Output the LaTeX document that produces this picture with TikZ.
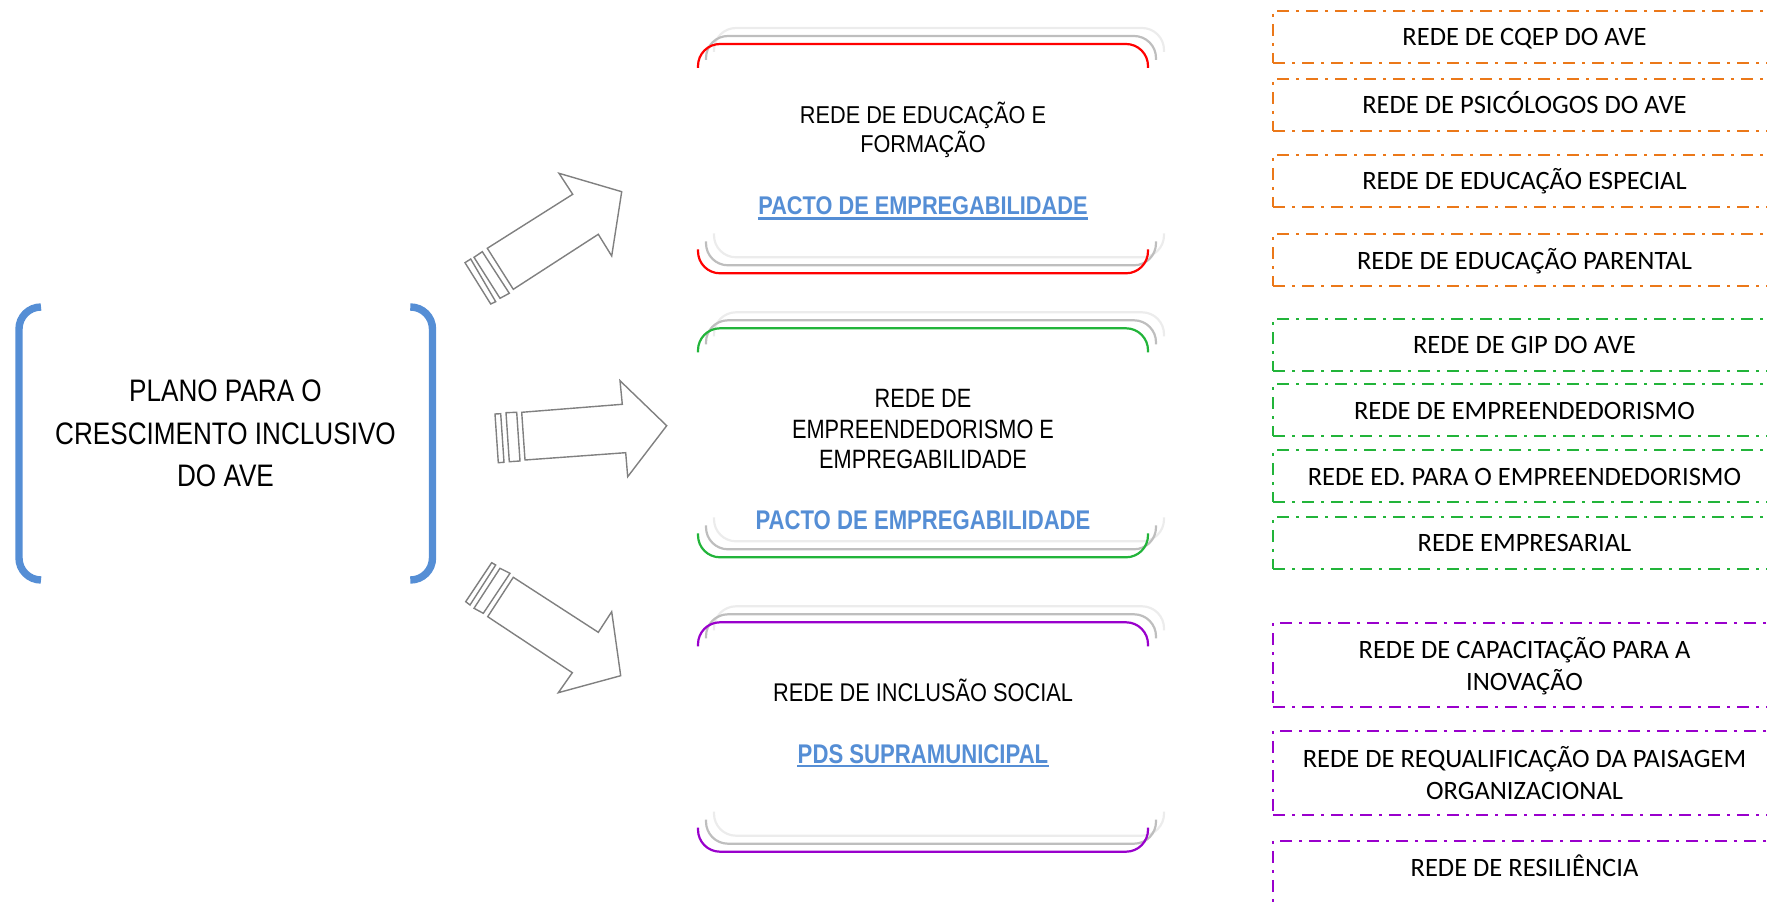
\documentclass[tikz,border=0pt]{standalone}
\usepackage{fontspec}
\setmainfont{Liberation Sans}
\newfontfamily\nA[FakeStretch=0.84]{Liberation Sans}
\newfontfamily\nB[FakeStretch=0.89]{Liberation Sans}
\newfontfamily\nC[FakeStretch=0.82]{Liberation Sans}
\newfontfamily\nD[FakeStretch=0.85]{Liberation Sans}
\newfontfamily\calfont{Carlito}
\definecolor{bblue}{RGB}{85,142,213}
\definecolor{aorange}{RGB}{235,120,25}
\definecolor{agreen}{RGB}{34,180,58}
\definecolor{apurple}{RGB}{153,0,204}
\definecolor{dgray}{RGB}{190,190,190}
\definecolor{lgray}{RGB}{236,236,236}
\definecolor{agray}{RGB}{128,128,128}
\newcommand{\bracketbox}[3]{%
  \foreach \d/\c in {16/lgray,8/dgray,0/#3} {
    \draw[boxline, draw=\c] (698+\d,#1-\d+24) -- (698+\d,#1-\d) -- (1148+\d,#1-\d) -- (1148+\d,#1-\d+24);
    \draw[boxline, draw=\c] (698+\d,#2-\d-24) -- (698+\d,#2-\d) -- (1148+\d,#2-\d) -- (1148+\d,#2-\d-24);
  }}
\begin{document}
\begin{tikzpicture}[x=0.5pt,y=-0.5pt,
  lbracket/.style={draw=bblue, line width=3.7pt, rounded corners=11pt},
  boxline/.style={line width=1.1pt, rounded corners=11pt},
  barrow/.style={draw=agray, fill=white, line width=0.7pt, line join=miter},
  ltext/.style={anchor=base, inner sep=0pt, font=\nA\fontsize{15.55pt}{18pt}\selectfont},
  btextA/.style={anchor=base, inner sep=0pt, font=\nB\fontsize{12.2pt}{14pt}\selectfont},
  btextB/.style={anchor=base, inner sep=0pt, font=\nC\fontsize{13.25pt}{15pt}\selectfont},
  btextC/.style={anchor=base, inner sep=0pt, font=\nD\fontsize{12.8pt}{15pt}\selectfont},
  pactA/.style={anchor=base, inner sep=0pt, text=bblue, font=\nD\bfseries\fontsize{12.8pt}{15pt}\selectfont},
  pactB/.style={anchor=base, inner sep=0pt, text=bblue, font=\nC\bfseries\fontsize{13.5pt}{15pt}\selectfont},
  uline/.style={draw=bblue, line width=1.2pt},
  rbox/.style={draw, dash pattern=on 6pt off 3.5pt on 1.5pt off 3.5pt, line width=0.8pt,
               minimum width=252pt, anchor=north west, inner sep=0pt},
  rtext/.style={anchor=base, inner sep=0pt, font=\calfont\fontsize{13.25pt}{15.85pt}\selectfont}
]
\useasboundingbox (0,0) rectangle (1767,908);
\begin{scope}
\clip (0,0) rectangle (1767,908);

% left bracket and title
\draw[lbracket] (41,307) -- (19,307) -- (19,580) -- (41,580);
\draw[lbracket] (411,307) -- (432.5,307) -- (432.5,580) -- (411,580);
\node[ltext] (t1) at (225.5,402) {PLANO PARA O};
\node[ltext] (t2) at (225.5,444.5) {CRESCIMENTO INCLUSIVO};
\node[ltext] (t3) at (225.5,487) {DO AVE};

% block arrows
\draw[barrow] (487.3,248.3) -- (572.7,194.3) -- (559,173.3) -- (621.7,191.7) -- (611.7,256) -- (598.3,234.3) -- (513.3,289.3) -- cycle;
\draw[barrow] (474,257.3) -- (482.3,251.7) -- (509.3,293.3) -- (500,298.3) -- cycle;
\draw[barrow] (465,262.7) -- (470.7,259) -- (495.7,301.7) -- (490.7,304) -- cycle;

\draw[barrow] (521.7,412.3) -- (622.3,404.3) -- (620,380.7) -- (666.7,425.7) -- (627.7,476.7) -- (625.7,452.7) -- (525,460) -- cycle;
\draw[barrow] (506,412.7) -- (516.7,412.3) -- (520,461) -- (509.3,461.7) -- cycle;
\draw[barrow] (495,414) -- (500.7,413.7) -- (504,462.3) -- (498.3,462.7) -- cycle;

\draw[barrow] (513.3,577.3) -- (598.3,632.3) -- (611.7,611.7) -- (620.7,675.7) -- (558.3,692.7) -- (572.3,672.7) -- (487.7,616.7) -- cycle;
\draw[barrow] (500,568.3) -- (510,573.3) -- (483.3,613.3) -- (474,608.3) -- cycle;
\draw[barrow] (491.7,562.7) -- (495.7,565) -- (470,605) -- (465.7,601.7) -- cycle;

% middle boxes
\bracketbox{44}{273.3}{red}
\bracketbox{328.3}{557.3}{agreen}
\bracketbox{622.3}{851.7}{apurple}

\node[btextA] (e1) at (923,123.3) {REDE DE EDUCAÇÃO E};
\node[btextA] (e2) at (923,152.7) {FORMAÇÃO};
\node[pactA] (e3) at (923,215) {PACTO DE EMPREGABILIDADE};
\draw[uline] ([yshift=-1.8pt]e3.base west) -- ([yshift=-1.8pt]e3.base east);

\node[btextB] (m1) at (923,407.3) {REDE DE};
\node[btextB] (m2) at (923,438.3) {EMPREENDEDORISMO E};
\node[btextB] (m3) at (923,469) {EMPREGABILIDADE};
\node[pactB] (m4) at (923,530) {PACTO DE EMPREGABILIDADE};

\node[btextC] (s1) at (923,701.7) {REDE DE INCLUSÃO SOCIAL};
\node[pactB] (s2) at (923,763.3) {PDS SUPRAMUNICIPAL};
\draw[uline] ([yshift=-1.4pt]s2.base west) -- ([yshift=-1.4pt]s2.base east);

% right dashed boxes
\node[rbox, draw=aorange, minimum height=26pt] (o1) at (1272.3,10) {};
\node[rbox, draw=aorange, minimum height=26pt] (o2) at (1272.3,78) {};
\node[rbox, draw=aorange, minimum height=26pt] (o3) at (1272.3,154) {};
\node[rbox, draw=aorange, minimum height=26pt] (o4) at (1272.3,233.3) {};
\node[rtext] (o1t) at (1524.5,46) {REDE DE CQEP DO AVE};
\node[rtext] (o2t) at (1524.5,114) {REDE DE PSICÓLOGOS DO AVE};
\node[rtext] (o3t) at (1524.5,190) {REDE DE EDUCAÇÃO ESPECIAL};
\node[rtext] (o4t) at (1524.5,269.3) {REDE DE EDUCAÇÃO PARENTAL};

\node[rbox, draw=agreen, minimum height=26pt] (g1) at (1272.3,318.3) {};
\node[rbox, draw=agreen, minimum height=26pt] (g2) at (1272.3,383.5) {};
\node[rbox, draw=agreen, minimum height=26pt] (g3) at (1272.3,449.5) {};
\node[rbox, draw=agreen, minimum height=26pt] (g4) at (1272.3,516) {};
\node[rtext] (g1t) at (1524.5,354) {REDE DE GIP DO AVE};
\node[rtext] (g2t) at (1524.5,420) {REDE DE EMPREENDEDORISMO};
\node[rtext] (g3t) at (1524.5,485.7) {REDE ED. PARA O EMPREENDEDORISMO};
\node[rtext] (g4t) at (1524.5,551.7) {REDE EMPRESARIAL};

\node[rbox, draw=apurple, minimum height=42pt] (p1) at (1272.3,622.3) {};
\node[rbox, draw=apurple, minimum height=42pt] (p2) at (1272.3,730) {};
\node[rbox, draw=apurple, minimum height=42pt] (p3) at (1272.3,840) {};
\node[rtext] (p1a) at (1524.5,658.3) {REDE DE CAPACITAÇÃO PARA A};
\node[rtext] (p1b) at (1524.5,690.7) {INOVAÇÃO};
\node[rtext] (p2a) at (1524.5,767.3) {REDE DE REQUALIFICAÇÃO DA PAISAGEM};
\node[rtext] (p2b) at (1524.5,799.3) {ORGANIZACIONAL};
\node[rtext] (p3t) at (1524.5,876.7) {REDE DE RESILIÊNCIA};
\end{scope}
\end{tikzpicture}
\end{document}
